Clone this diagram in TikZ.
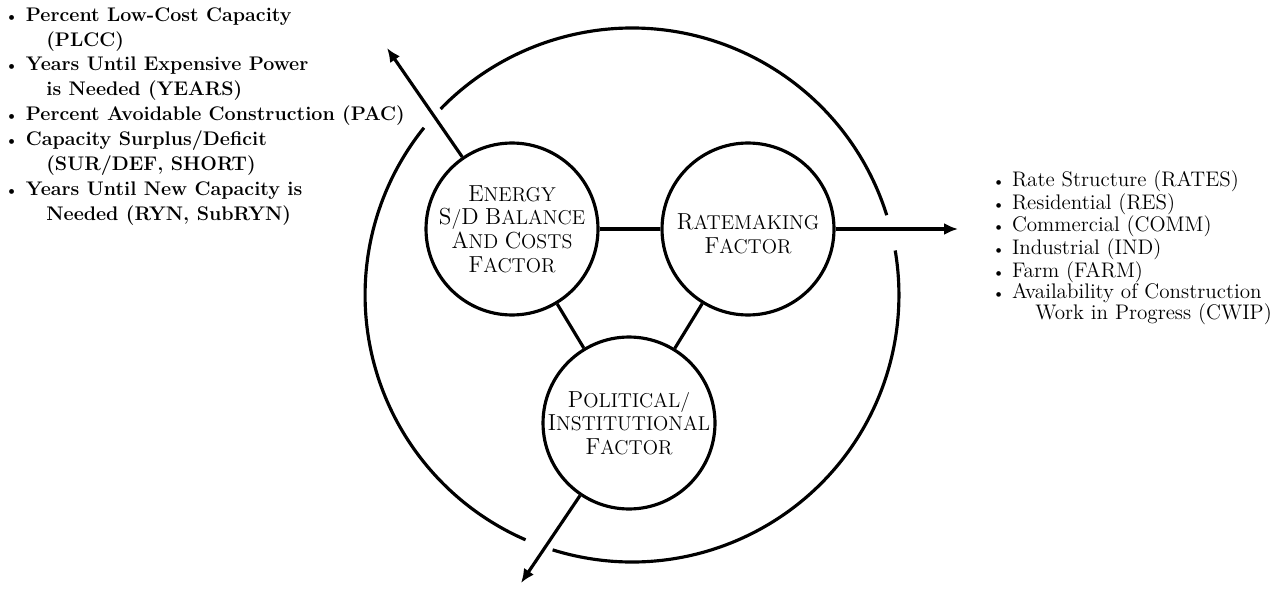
\documentclass[tikz,border=0pt]{standalone}
\usepackage{tikz}
\usetikzlibrary{arrows.meta}

\newcommand{\blt}{{\small\textbullet}\hspace{0.14cm}}
% caps with a larger first letter
\newcommand{\cw}[2]{{\fontsize{13.2}{13.2}\selectfont #1}#2}

\tikzset{
  factor/.style={draw, circle, line width=1.8pt, minimum size=3.44cm, inner sep=0pt},
  caption/.style={font=\fontsize{11.4}{13.4}\selectfont, align=center, inner sep=0pt},
  link/.style={line width=1.8pt},
  rim/.style={line width=1.8pt},
  outward/.style={line width=1.8pt, -{Latex[length=2.8mm, width=2.4mm]}},
  inputs/.style={font=\bfseries\fontsize{11.2}{14.2}\selectfont, align=left, inner sep=0pt},
  outputs/.style={font=\fontsize{12}{11.9}\selectfont, align=left, inner sep=0pt}
}

\begin{document}
\begin{tikzpicture}[x=0.02cm, y=-0.02cm]
\useasboundingbox (0,0) rectangle (1277,588);

% factors
\node[factor, label={[caption]center:\cw{E}{NERGY}\\\cw{S}{/}\cw{D}{} \cw{B}{ALANCE}\\\cw{A}{ND} \cw{C}{OSTS}\\\cw{F}{ACTOR}}] (energy) at (512,229) {};
\node[factor, label={[caption, yshift=-0.1cm]center:\cw{R}{ATEMAKING}\\\cw{F}{ACTOR}}] (rate) at (748,229) {};
\node[factor, label={[caption]center:\cw{P}{OLITICAL/}\\{\setlength{\fboxsep}{0.5pt}\colorbox{white}{\cw{I}{NSTITUTIONAL}}}\\\cw{F}{ACTOR}}] (pol) at (629,423) {};

\draw[link] (energy) -- (rate);
\draw[link] (energy) -- (pol);
\draw[link] (rate) -- (pol);

% outer ring, broken where the arrows leave
\coordinate (hub) at (632,295);
\draw[rim] ([shift={(17.4:5.34cm)}]hub) arc[start angle=17.4, end angle=135.8, radius=5.34cm];
\draw[rim] ([shift={(141.2:5.34cm)}]hub) arc[start angle=141.2, end angle=246.5, radius=5.34cm];
\draw[rim] ([shift={(252.7:5.34cm)}]hub) arc[start angle=252.7, end angle=369.6, radius=5.34cm];

% arrows out
\coordinate (nwend) at (387,48);
\coordinate (eastend) at (958,229);
\coordinate (southend) at (521,583);
\draw[outward] (energy) -- (nwend);
\draw[outward] (rate) -- (eastend);
\draw[outward] (pol) -- (southend);

% lists
\node[inputs, anchor=north west] (supply) at (4,7) {\blt Percent Low-Cost Capacity\\
\hspace*{0.84cm}(PLCC)\\
\blt Years Until Expensive Power\\
\hspace*{0.84cm}is Needed (YEARS)\\
\blt Percent Avoidable Construction (PAC)\\
\blt Capacity Surplus/Deficit\\
\hspace*{0.84cm}(SUR/DEF, SHORT)\\
\blt Years Until New Capacity is\\
\hspace*{0.84cm}Needed (RYN, SubRYN)};

\node[outputs, anchor=north west] (ratelist) at (992,170) {\blt Rate Structure (RATES)\\
\blt Residential (RES)\\
\blt Commercial (COMM)\\
\blt Industrial (IND)\\
\blt Farm (FARM)\\
\blt Availability of Construction\\
\hspace*{0.86cm}Work in Progress (CWIP)};
\end{tikzpicture}
\end{document}
